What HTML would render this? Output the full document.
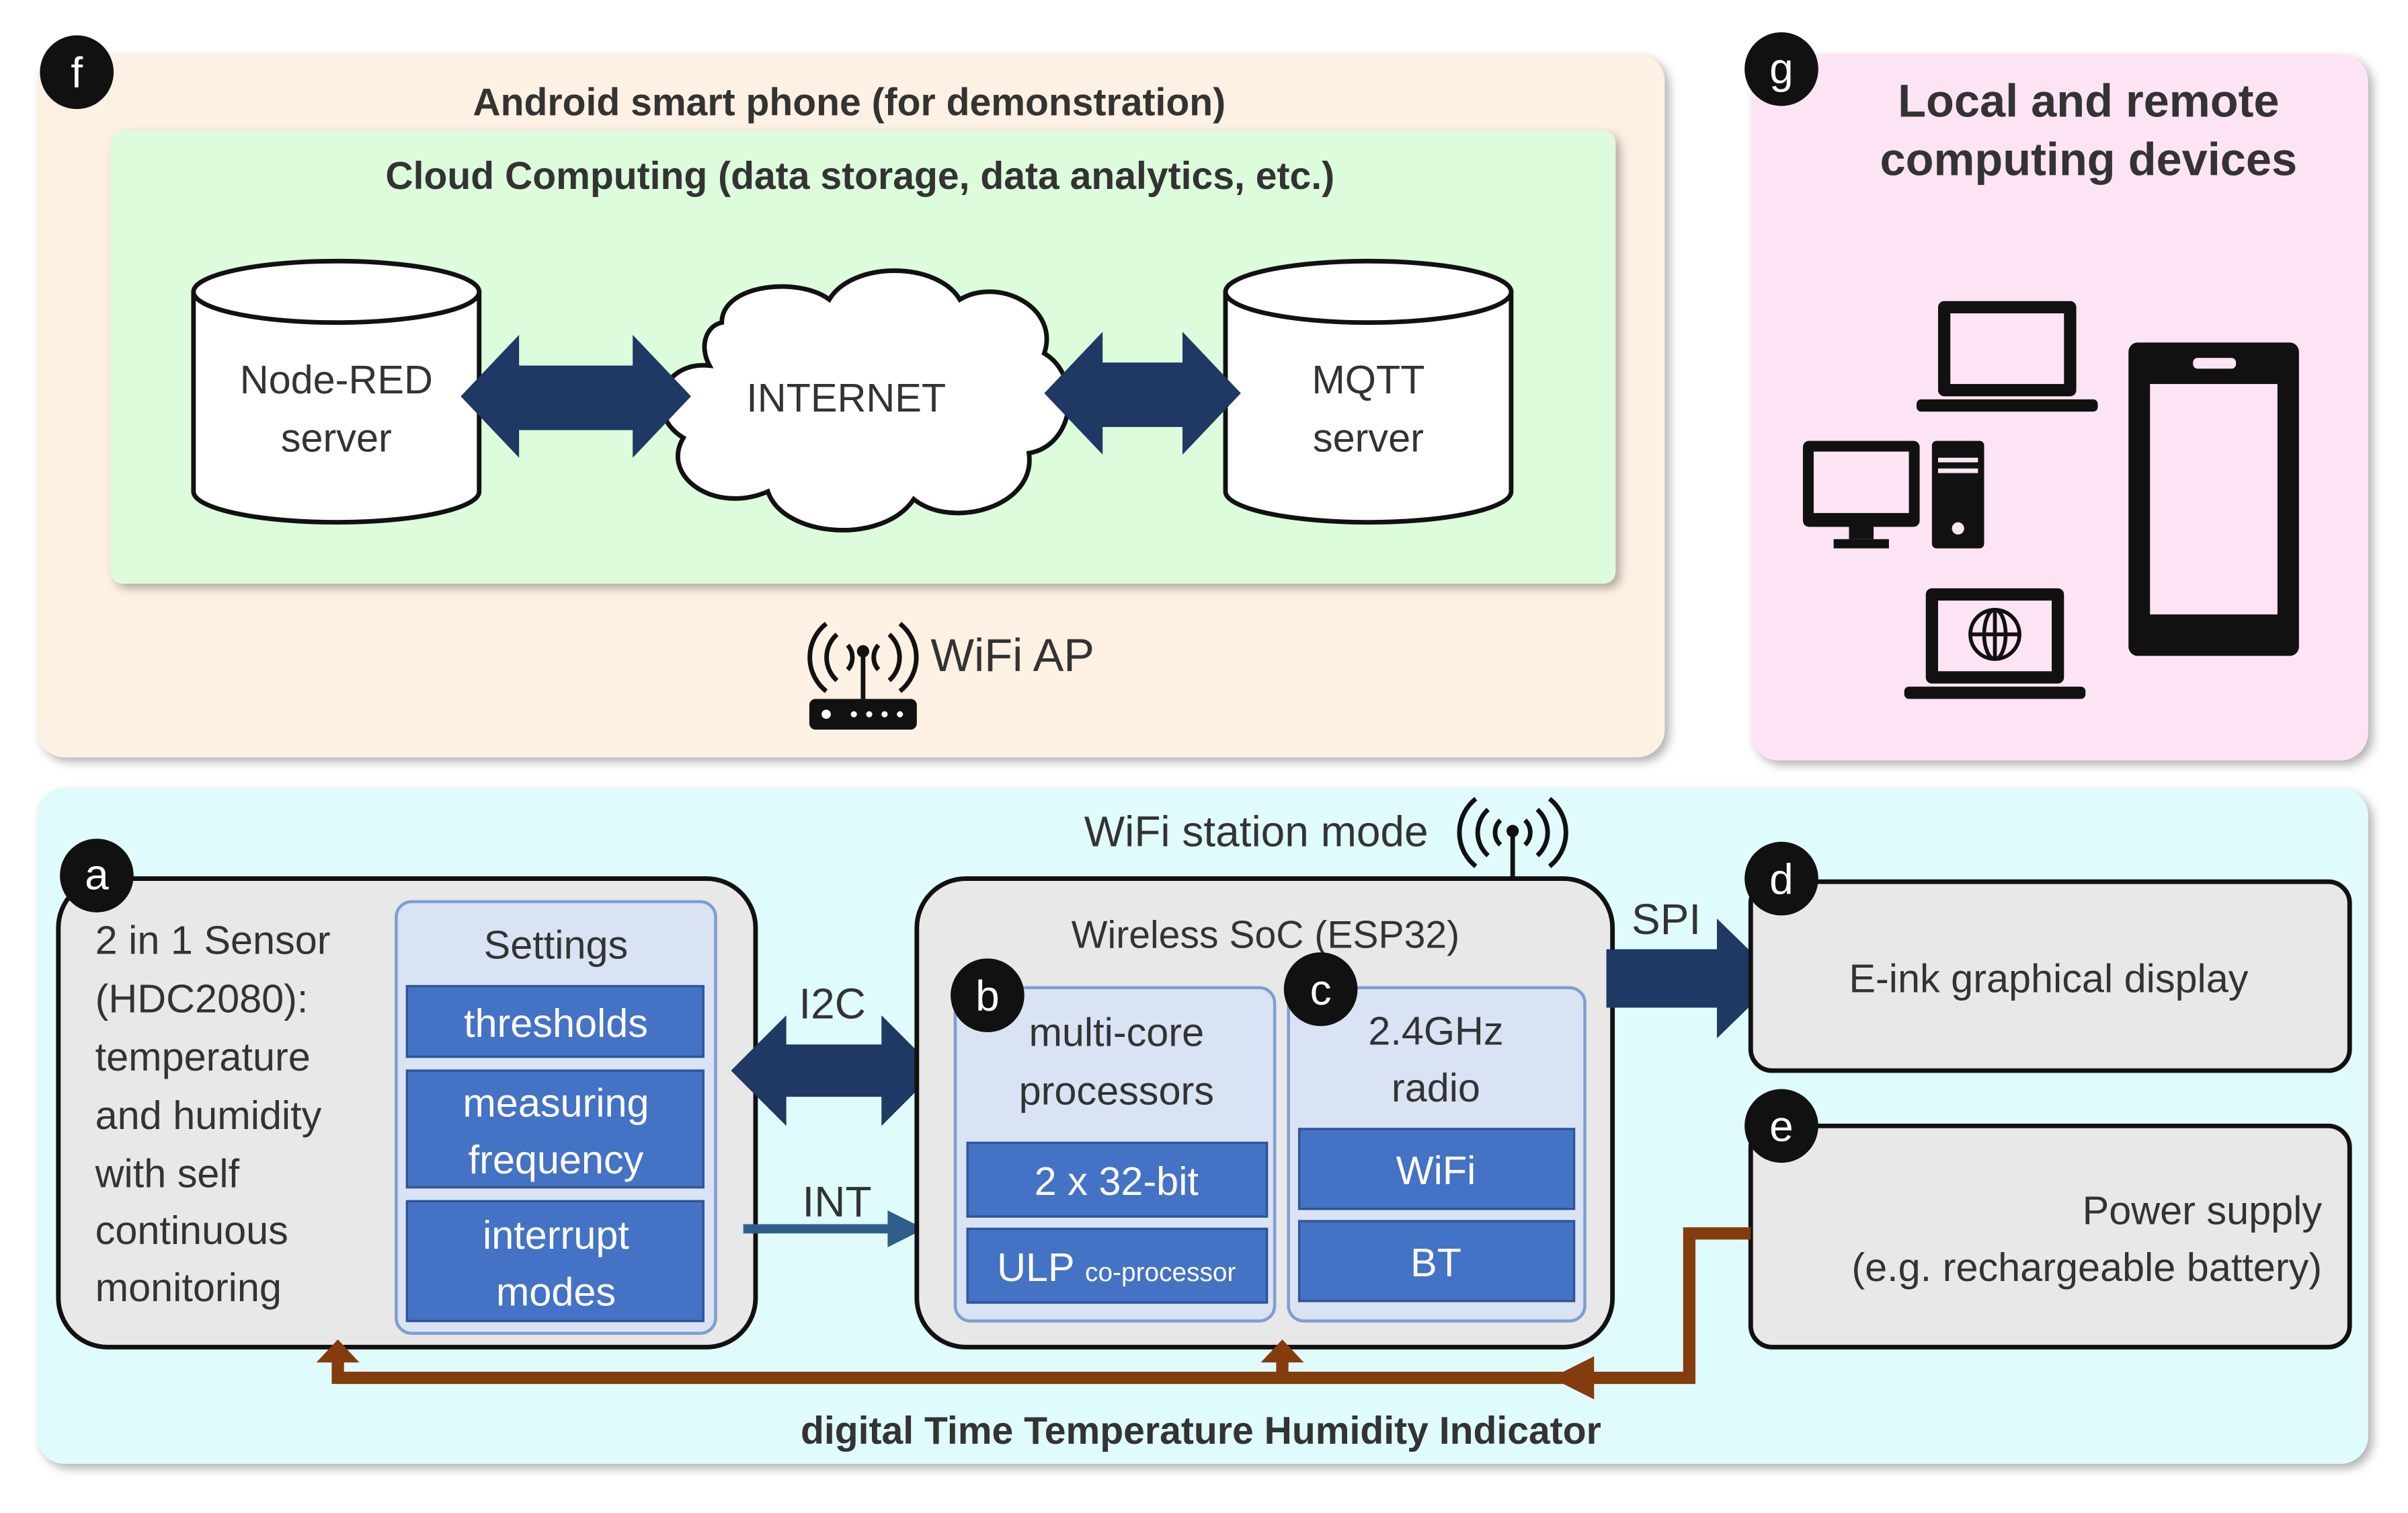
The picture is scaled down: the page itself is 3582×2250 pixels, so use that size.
<!DOCTYPE html>
<html><head><meta charset="utf-8"><style>
html,body{margin:0;padding:0;background:#fff;}
svg{display:block;}
text{font-family:"Liberation Sans",sans-serif;fill:#333;}
</style></head><body>
<svg width="3582" height="2250" viewBox="0 0 1568 985" preserveAspectRatio="none" xmlns="http://www.w3.org/2000/svg">
<defs>
<filter id="sh" x="-5%" y="-5%" width="110%" height="110%"><feDropShadow dx="3" dy="3" stdDeviation="3" flood-color="#000" flood-opacity="0.3"/></filter>
</defs>
<rect width="1568" height="985" fill="#fff"/>
<rect x="24" y="35" width="1060" height="458" rx="18" fill="#fdf1e3" filter="url(#sh)"/>
<text x="553" y="75" font-size="25" font-weight="bold" text-anchor="middle">Android smart phone (for demonstration)</text>
<rect x="72" y="85" width="980" height="295" rx="8" fill="#dcfcdc" filter="url(#sh)"/>
<text x="560" y="123" font-size="25" font-weight="bold" text-anchor="middle">Cloud Computing (data storage, data analytics, etc.)</text>
<g fill="#fff" stroke="#111" stroke-width="3">
<path d="M126 190 L126 320 A93 20 0 0 0 312 320 L312 190"/>
<ellipse cx="219" cy="190" rx="93" ry="20"/>
<path d="M798 190 L798 320 A93 20 0 0 0 984 320 L984 190"/>
<ellipse cx="891" cy="190" rx="93" ry="20"/>
</g>
<text x="219" y="256" font-size="26" text-anchor="middle">Node-RED</text>
<text x="219" y="294" font-size="26" text-anchor="middle">server</text>
<text x="891" y="256" font-size="26" text-anchor="middle">MQTT</text>
<text x="891" y="294" font-size="26" text-anchor="middle">server</text>
<path d="M470 210 C470 185 520 180 540 195 C555 170 610 170 625 195 C650 180 690 200 680 230 C705 245 700 290 670 295 C675 330 620 345 595 325 C575 355 510 350 500 320 C465 335 430 310 445 285 C420 270 430 235 462 238 C455 225 460 212 470 210 Z" fill="#fff" stroke="#111" stroke-width="3"/>
<text x="551" y="268" font-size="26" text-anchor="middle">INTERNET</text>
<g fill="#1f3864">
<polygon points="300,258 338,218 338,238 412,238 412,218 450,258 412,298 412,280 338,280 338,298"/>
<polygon points="680,256 718,216 718,236 770,236 770,216 808,256 770,296 770,278 718,278 718,296"/>
</g>
<g stroke="#111" stroke-width="3" fill="none">
<line x1="562" y1="425" x2="562" y2="455"/>
<path d="M552 420 A12 12 0 0 1 552 436"/><path d="M572 420 A12 12 0 0 0 572 436"/>
<path d="M545 413 A20 20 0 0 0 545 443"/><path d="M579 413 A20 20 0 0 1 579 443"/>
<path d="M538 406 A28 28 0 0 0 538 450"/><path d="M586 406 A28 28 0 0 1 586 450"/>
</g>
<circle cx="562" cy="424" r="4" fill="#111"/>
<rect x="527" y="455" width="70" height="20" rx="4" fill="#111"/>
<g fill="#fff"><circle cx="538" cy="465" r="3"/><circle cx="556" cy="465" r="2"/><circle cx="566" cy="465" r="2"/><circle cx="576" cy="465" r="2"/><circle cx="586" cy="465" r="2"/></g>
<text x="606" y="437" font-size="30" fill="#111">WiFi AP</text>
<rect x="1140" y="35" width="402" height="460" rx="18" fill="#fce4f4" filter="url(#sh)"/>
<text x="1360" y="76" font-size="30" font-weight="bold" text-anchor="middle" fill="#111">Local and remote</text>
<text x="1360" y="114" font-size="30" font-weight="bold" text-anchor="middle" fill="#111">computing devices</text>
<g fill="#111">
<rect x="1262" y="196" width="90" height="62" rx="4"/><rect x="1270" y="204" width="74" height="46" fill="#fce4f4"/>
<rect x="1248" y="260" width="118" height="8" rx="3"/>
<rect x="1174" y="287" width="76" height="56" rx="4"/><rect x="1181" y="294" width="62" height="40" fill="#fce4f4"/>
<rect x="1204" y="343" width="16" height="8"/><rect x="1194" y="351" width="36" height="6"/>
<rect x="1258" y="287" width="34" height="70" rx="3"/><rect x="1262" y="298" width="26" height="3" fill="#fce4f4"/><rect x="1262" y="305" width="26" height="3" fill="#fce4f4"/><circle cx="1275" cy="344" r="4" fill="#fce4f4"/>
<rect x="1254" y="383" width="90" height="62" rx="4"/><rect x="1262" y="391" width="74" height="46" fill="#fce4f4"/>
<rect x="1240" y="447" width="118" height="8" rx="3"/>
<rect x="1386" y="223" width="111" height="204" rx="6"/><rect x="1400" y="250" width="83" height="150" fill="#fce4f4"/><rect x="1428" y="233" width="28" height="7" rx="3" fill="#fce4f4"/>
</g>
<g stroke="#111" stroke-width="2.5" fill="none"><circle cx="1299" cy="413" r="16"/><ellipse cx="1299" cy="413" rx="7" ry="16"/><line x1="1283" y1="413" x2="1315" y2="413"/><line x1="1299" y1="397" x2="1299" y2="429"/></g>
<rect x="24" y="513" width="1518" height="440" rx="18" fill="#e0fbfc" filter="url(#sh)"/>
<text x="818" y="551" font-size="28" text-anchor="middle" fill="#111">WiFi station mode</text>
<g stroke="#111" stroke-width="3" fill="none">
<line x1="985" y1="540" x2="985" y2="572"/>
<path d="M977 534 A11 11 0 0 0 977 550"/><path d="M993 534 A11 11 0 0 1 993 550"/>
<path d="M969 527 A20 20 0 0 0 969 557"/><path d="M1001 527 A20 20 0 0 1 1001 557"/>
<path d="M961 520 A28 28 0 0 0 961 564"/><path d="M1009 520 A28 28 0 0 1 1009 564"/>
</g>
<circle cx="985" cy="541" r="4" fill="#111"/>
<rect x="38" y="572" width="454" height="305" rx="32" fill="#e8e8e8" stroke="#111" stroke-width="3"/>
<g font-size="26">
<text x="62" y="621">2 in 1 Sensor</text><text x="62" y="659">(HDC2080):</text><text x="62" y="697">temperature</text><text x="62" y="735">and humidity</text><text x="62" y="773">with self</text><text x="62" y="810">continuous</text><text x="62" y="847">monitoring</text>
</g>
<rect x="258" y="587" width="208" height="281" rx="10" fill="#dae3f3" stroke="#7f9fd0" stroke-width="2"/>
<text x="362" y="624" font-size="26" text-anchor="middle">Settings</text>
<polygon points="476,697 512,661 512,680 574,680 574,661 610,697 574,733 574,714 512,714 512,733" fill="#1f3864"/>
<text x="542" y="663" font-size="28" text-anchor="middle" fill="#111">I2C</text>
<line x1="484" y1="800" x2="582" y2="800" stroke="#2e5f8a" stroke-width="6"/>
<polygon points="578,788 602,800 578,812" fill="#2e5f8a"/>
<text x="545" y="792" font-size="28" text-anchor="middle" fill="#111">INT</text>
<rect x="597" y="572" width="453" height="305" rx="32" fill="#e8e8e8" stroke="#111" stroke-width="3"/>
<text x="824" y="617" font-size="25" text-anchor="middle">Wireless SoC (ESP32)</text>
<rect x="622" y="643" width="208" height="217" rx="10" fill="#dae3f3" stroke="#7f9fd0" stroke-width="2"/>
<rect x="839" y="643" width="193" height="217" rx="10" fill="#dae3f3" stroke="#7f9fd0" stroke-width="2"/>
<text x="727" y="681" font-size="26" text-anchor="middle">multi-core</text><text x="727" y="719" font-size="26" text-anchor="middle">processors</text>
<text x="935" y="680" font-size="26" text-anchor="middle">2.4GHz</text><text x="935" y="717" font-size="26" text-anchor="middle">radio</text>
<g fill="#4472c4" stroke="#2f5597" stroke-width="1.5">
<rect x="265" y="642" width="193" height="46"/><rect x="265" y="697" width="193" height="76"/><rect x="265" y="782" width="193" height="78"/>
<rect x="630" y="744" width="195" height="48"/><rect x="630" y="800" width="195" height="48"/>
<rect x="846" y="735" width="179" height="52"/><rect x="846" y="795" width="179" height="52"/>
</g>
<g font-size="26" text-anchor="middle">
<text x="362" y="675" style="fill:#fff">thresholds</text>
<text x="362" y="727" style="fill:#fff">measuring</text><text x="362" y="764" style="fill:#fff">frequency</text>
<text x="362" y="813" style="fill:#fff">interrupt</text><text x="362" y="850" style="fill:#fff">modes</text>
<text x="727" y="778" style="fill:#fff">2 x 32-bit</text>
<text x="727" y="834" style="fill:#fff">ULP <tspan font-size="17">co-processor</tspan></text>
<text x="935" y="771" style="fill:#fff">WiFi</text>
<text x="935" y="831" style="fill:#fff">BT</text>
</g>
<polygon points="1046,618 1118,618 1118,598 1158,637 1118,676 1118,656 1046,656" fill="#1f3864"/>
<text x="1085" y="608" font-size="28" text-anchor="middle" fill="#111">SPI</text>
<rect x="1140" y="574" width="390" height="123" rx="14" fill="#e8e8e8" stroke="#111" stroke-width="3"/>
<text x="1334" y="646" font-size="26" text-anchor="middle">E-ink graphical display</text>
<rect x="1140" y="733" width="390" height="144" rx="14" fill="#e8e8e8" stroke="#111" stroke-width="3"/>
<text x="1512" y="797" font-size="26" text-anchor="end">Power supply</text>
<text x="1512" y="834" font-size="26" text-anchor="end">(e.g. rechargeable battery)</text>
<g stroke="#843c0c" stroke-width="8" fill="none">
<polyline points="1140,803 1100,803 1100,897 1030,897"/>
<polyline points="1030,897 220,897 220,885"/>
<line x1="835" y1="897" x2="835" y2="885"/>
</g>
<g fill="#843c0c">
<polygon points="206,887 220,872 234,887"/>
<polygon points="821,887 835,872 849,887"/>
<polygon points="1010,897 1038,883 1038,911"/>
</g>
<text x="782" y="940" font-size="25" font-weight="bold" text-anchor="middle">digital Time Temperature Humidity Indicator</text>
<g fill="#111">
<circle cx="50" cy="47" r="24"/><circle cx="1160" cy="45" r="24"/>
<circle cx="63" cy="570" r="24"/><circle cx="643" cy="648" r="24"/><circle cx="860" cy="644" r="24"/>
<circle cx="1160" cy="572" r="24"/><circle cx="1160" cy="733" r="24"/>
</g>
<g font-size="28" text-anchor="middle">
<text x="50" y="57" style="fill:#fff">f</text><text x="1160" y="54" style="fill:#fff">g</text>
<text x="63" y="579" style="fill:#fff">a</text><text x="643" y="658" style="fill:#fff">b</text><text x="860" y="654" style="fill:#fff">c</text>
<text x="1160" y="582" style="fill:#fff">d</text><text x="1160" y="743" style="fill:#fff">e</text>
</g>
</svg>
</body></html>
